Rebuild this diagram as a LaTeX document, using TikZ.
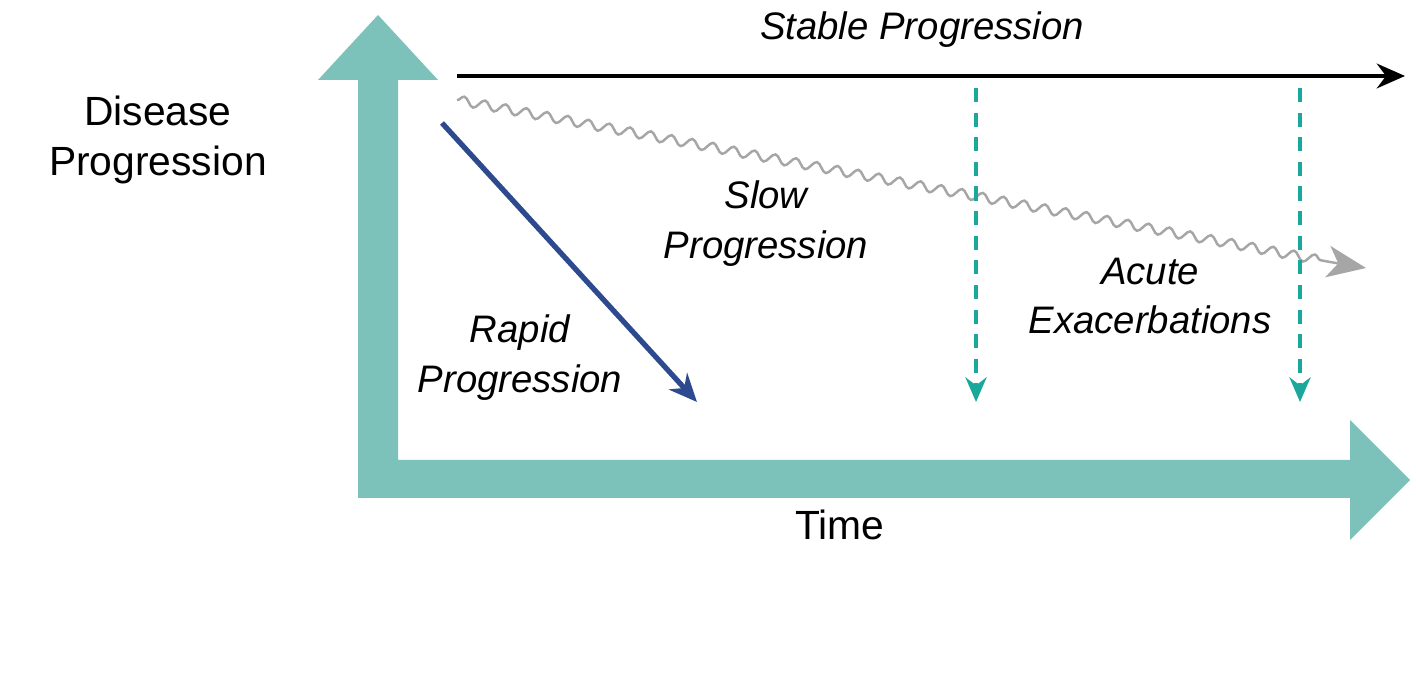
\documentclass[tikz,border=0pt]{standalone}
\usepackage{fontspec}
\setmainfont{Liberation Sans}
\usetikzlibrary{arrows.meta,decorations.pathmorphing}
\definecolor{axisgreen}{HTML}{7DC1BB}
\definecolor{rapidblue}{HTML}{2E4A8E}
\definecolor{acuteteal}{HTML}{1AA89C}
\tikzset{
  lbl/.style={font=\fontsize{10.9}{14.2}\selectfont\itshape,align=center},
  axlbl/.style={font=\fontsize{11.6}{14.3}\selectfont,align=center},
  acute/.style={acuteteal,line width=1.1pt,dash pattern=on 4pt off 3pt,-{Stealth[length=7pt,width=6pt]}}
}
\begin{document}
\begin{tikzpicture}[x=0.01cm,y=-0.01cm]
  \useasboundingbox (0,0) rectangle (1416,689);
  % axes
  \fill[axisgreen] (358,498) -- (358,80) -- (318,80) -- (378,15) -- (438,80) -- (398,80)
     -- (398,460) -- (1350,460) -- (1350,420) -- (1410,480) -- (1350,540) -- (1350,498) -- cycle;
  \node[axlbl] (dp) at (158,140) {Disease\\Progression};
  \node[axlbl] (time) at (840,525) {Time};
  % stable
  \coordinate (s0) at (457,76);
  \coordinate (s1) at (1405,76);
  \draw[line width=1.3pt,-{Stealth[length=8pt,width=7pt]}] (s0) -- (s1);
  \node[lbl] (stable) at (922,30) {Stable Progression};
  % slow
  \coordinate (w0) at (457,100);
  \coordinate (w1) at (1330,262);
  \coordinate (w2) at (1366,268);
  \draw[gray!70,line width=0.7pt,decorate,decoration={snake,amplitude=1.3pt,segment length=6pt}] (w0) -- (w1);
  \draw[gray!70,line width=0.7pt,-{Stealth[length=11pt,width=9pt,inset=3pt]}] (w1) -- (w2);
  \node[lbl] (slow) at (766,224) {Slow\\Progression};
  % rapid
  \coordinate (r0) at (442,123);
  \coordinate (r1) at (697,402);
  \draw[rapidblue,line width=1.5pt,-{Stealth[length=8pt,width=7pt]}] (r0) -- (r1);
  \node[lbl] (rapid) at (520,358) {Rapid\\Progression};
  % acute exacerbations
  \coordinate (a0) at (976,88);
  \coordinate (a1) at (976,402);
  \coordinate (b0) at (1300,88);
  \coordinate (b1) at (1300,402);
  \draw[acute] (a0) -- (a1);
  \draw[acute] (b0) -- (b1);
  \node[lbl] (acute) at (1150,296) {Acute\\Exacerbations};
\end{tikzpicture}
\end{document}
